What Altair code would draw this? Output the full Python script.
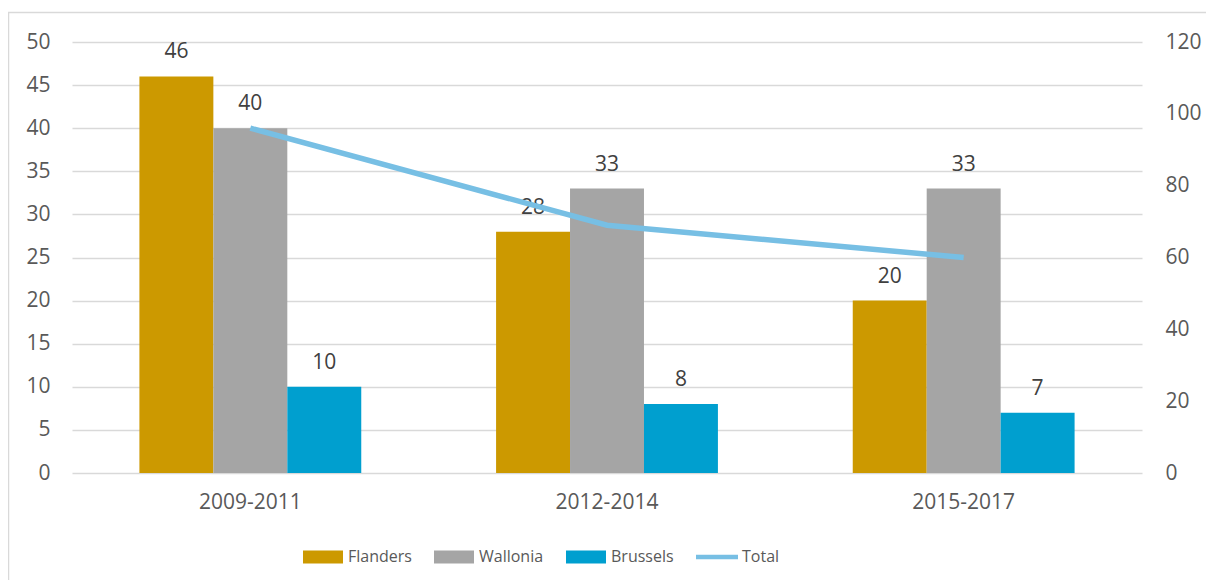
import altair as alt
import pandas as pd

periods = ["2009-2011", "2012-2014", "2015-2017"]
series_names = ["Flanders", "Wallonia", "Brussels"]
flanders = [46, 28, 20]
wallonia = [40, 33, 33]
brussels = [10, 8, 7]
total = [96, 69, 60]
left_ticks = list(range(0, 51, 5))
right_ticks = list(range(0, 121, 20))
colors = ["#CC9900", "#A5A5A5", "#009FCF", "#77BFE4"]

FONT = "Open Sans"
TXT = "#595959"

rows = []
for s, vals in zip(series_names, [flanders, wallonia, brussels]):
    for p, v in zip(periods, vals):
        rows.append({"period": p, "series": s, "value": v})
bars_df = pd.DataFrame(rows)
total_df = pd.DataFrame({"period": periods, "series": ["Total"] * 3, "total": total})
domain = series_names + ["Total"]

color_scale = alt.Scale(domain=domain, range=colors)
rect_path = "M-1,-0.33H1V0.33H-1Z"
line_path = "M-1.05,-0.11H1.05V0.11H-1.05Z"

x_enc = alt.X(
    "period:N", sort=periods,
    scale=alt.Scale(paddingInner=0.378, paddingOuter=0.189),
    axis=alt.Axis(title=None, labelPadding=18, grid=False, labelAngle=0),
)
xoff = alt.XOffset("series:N", sort=series_names,
                   scale=alt.Scale(paddingInner=0, paddingOuter=0))
y_left = alt.Y(
    "value:Q", scale=alt.Scale(domain=[0, 50], nice=False),
    axis=alt.Axis(title=None, values=left_ticks, grid=True, labelPadding=22),
)

leg = alt.Legend(
    orient="none", legendX=231, legendY=495, direction="horizontal", title=None,
    symbolSize=1600, symbolStrokeWidth=0, labelFontSize=16, labelFont=FONT,
    labelColor=TXT, labelOffset=5, columnPadding=22,
    symbolType=alt.ExprRef(
        expr="datum.value === 'Total' ? '%s' : '%s'" % (line_path, rect_path)
    ),
)

bars = alt.Chart(bars_df).mark_bar().encode(
    x=x_enc, xOffset=xoff, y=y_left,
    color=alt.Color("series:N", scale=color_scale, legend=leg),
)
labels = alt.Chart(bars_df).mark_text(
    dy=-18, baseline="alphabetic", fontSize=21, color="#404040", font=FONT
).encode(x=x_enc, xOffset=xoff, y=y_left, text="value:Q")

line = alt.Chart(total_df).mark_line(strokeWidth=5.5).encode(
    x=x_enc,
    y=alt.Y("total:Q", scale=alt.Scale(domain=[0, 120], nice=False),
            axis=alt.Axis(title=None, orient="right", values=right_ticks,
                          grid=False, labelPadding=23)),
    color=alt.Color("series:N", scale=color_scale, legend=None),
)

frame = alt.Chart(pd.DataFrame({"a": [0]})).mark_rect(
    fillOpacity=0, stroke="#D9D9D9", strokeWidth=1.5
).encode(x=alt.value(-63.5), x2=alt.value(1160), y=alt.value(-29.5), y2=alt.value(560))

chart = alt.layer(
    alt.layer(bars, labels), line, frame
).resolve_scale(y="independent").properties(
    width=1070, height=431,
    autosize=alt.AutoSizeParams(type="none"),
    padding={"left": 64, "top": 34, "right": 64, "bottom": 107},
).configure_axis(
    domain=False, ticks=False, labelFont=FONT, labelFontSize=21, labelColor=TXT,
    gridColor="#D9D9D9", gridWidth=1.5,
).configure_view(stroke=None)

chart.save("out.html", embed_options={"renderer": "svg", "actions": False})
